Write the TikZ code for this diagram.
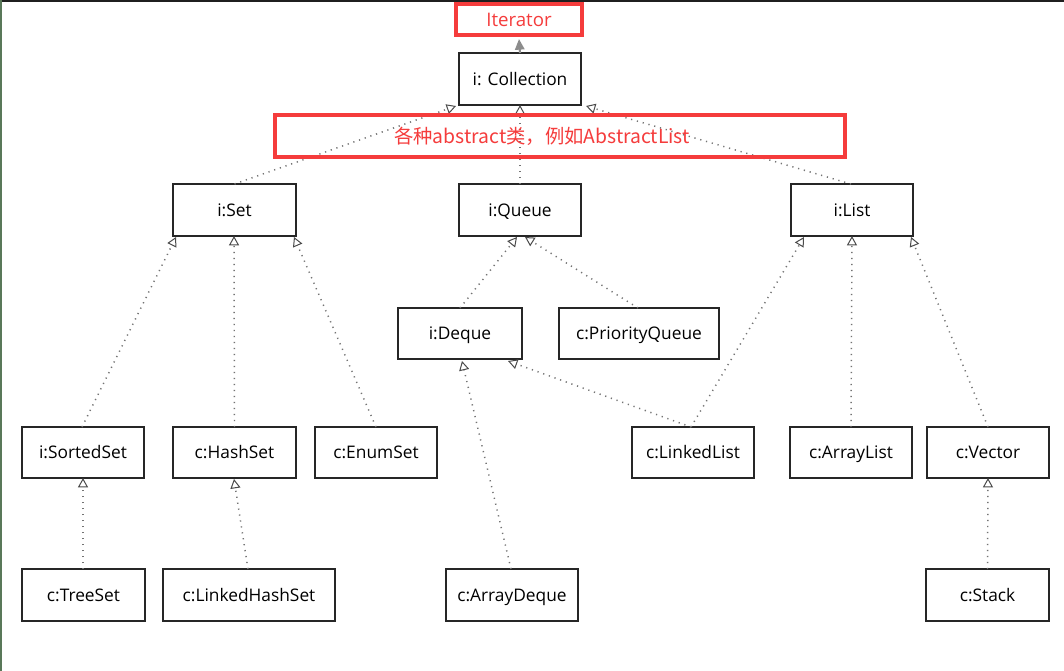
\documentclass[tikz,border=0pt]{standalone}
\usepackage{fontspec}
\setmainfont{Open Sans}
\newfontfamily\cjk{Noto Sans CJK SC}
\usetikzlibrary{arrows.meta,calc}
\definecolor{redbox}{RGB}{245,60,60}
\definecolor{dotgray}{RGB}{115,115,115}
\definecolor{headgray}{RGB}{75,75,75}
\tikzset{
  cbox/.style={draw=black!85, line width=0.9pt, inner sep=0pt, outer sep=0pt, font=\fontsize{13}{15}\selectfont, text=black, text height=10.5pt, text depth=1.5pt},
  rbox/.style={draw=redbox, line width=2.4pt, inner sep=0pt, outer sep=0pt, text=redbox},
  inh/.style={dotgray, line width=1.1pt, dash pattern=on 0.9pt off 3.6pt,
    -{Triangle[open, length=7pt, width=7.5pt, line width=0.75pt, color=headgray, fill=white]}},
  assoc/.style={draw=black!45, line width=1.6pt, -{Triangle[length=8pt, width=7pt, color=black!45]}}
}
\newcommand{\ubox}[7]{\node[#7, minimum width={(#4-#2)*0.75pt}, minimum height={(#5-#3)*0.75pt}] (#1) at ({(#2+#4)/2},{(#3+#5)/2}) {#6};}
\begin{document}
\begin{tikzpicture}[x=0.75pt, y=-0.75pt]
\useasboundingbox (0,0) rectangle (1064,671);
\fill[white] (0,0) rectangle (1064,671);
\fill[black!88] (0,0) rectangle (1064,2.2);
\fill[black!60!green!30!gray] (0,0) rectangle (1.6,671);

\ubox{iter}{456}{4}{582}{35}{\fontsize{14}{16}\selectfont Iterator}{rbox}
\ubox{coll}{459}{53}{581}{105}{i: Collection}{cbox}
\ubox{set}{173}{184}{296}{236}{i:Set}{cbox}
\ubox{queue}{459}{184}{581}{236}{i:Queue}{cbox}
\ubox{list}{791}{184}{913}{236}{i:List}{cbox}
\ubox{deque}{398}{308}{522}{359}{i:Deque}{cbox}
\ubox{pq}{559}{308}{719}{359}{c:PriorityQueue}{cbox}
\ubox{sorted}{22}{427}{144}{478}{i:SortedSet}{cbox}
\ubox{hashset}{173}{427}{296}{478}{c:HashSet}{cbox}
\ubox{enumset}{315}{427}{437}{478}{c:EnumSet}{cbox}
\ubox{linkedlist}{632}{427}{754}{478}{c:LinkedList}{cbox}
\ubox{arraylist}{790}{427}{912}{478}{c:ArrayList}{cbox}
\ubox{vector}{927}{427}{1049}{478}{c:Vector}{cbox}
\ubox{treeset}{22}{569}{145}{621}{c:TreeSet}{cbox}
\ubox{lhs}{163}{569}{335}{621}{c:LinkedHashSet}{cbox}
\ubox{arraydeque}{446}{569}{578}{621}{c:ArrayDeque}{cbox}
\ubox{stack}{926}{569}{1049}{621}{c:Stack}{cbox}

% connectors
\draw[assoc] (coll.north) -- ($(iter.south)+(0,4)$);
\draw[inh] (set.north) -- ($(coll.south west)+(-3,1)$);
\draw[inh] (queue.north) -- (coll.south);
\draw[inh] ($(list.north)+(-1,0)$) -- ($(coll.south east)+(5,1)$);
\draw[inh] ($(sorted.north)+(-1,0)$) -- ($(set.south west)+(3,1)$);
\draw[inh] (hashset.north) -- ($(set.south)+(-0.5,0)$);
\draw[inh] ($(enumset.north)+(0,0)$) -- ($(set.south east)+(-2,1)$);
\draw[inh] (deque.north) -- ($(queue.south)+(-3,1)$);
\draw[inh] ($(pq.north)+(-1,0)$) -- ($(queue.south)+(5,1)$);
\draw[inh] ($(linkedlist.north)+(-2,0)$) -- ($(deque.south east)+(-14,2)$);
\draw[inh] ($(linkedlist.north)+(-2,0)$) -- ($(list.south west)+(13,1)$);
\draw[inh] (arraylist.north) -- (list.south);
\draw[inh] (vector.north) -- ($(list.south east)+(-2,1)$);
\draw[inh] ($(treeset.north)+(-0.5,0)$) -- (sorted.south);
\draw[inh] ($(lhs.north)+(-1,0)$) -- ($(hashset.south)+(-0.5,1)$);
\draw[inh] ($(arraydeque.north)+(-1,0)$) -- ($(deque.south)+(2,2)$);
\draw[inh] (stack.north) -- (vector.south);

% red annotation box drawn on top
\ubox{abs}{275}{115}{845}{157}{}{rbox}
\node[text=redbox, font=\cjk\fontsize{14.5}{16}\selectfont, inner sep=0pt] (abstxt) at ($(abs.center)+(-18,0)$) {各种abstract类，例如AbstractList};
\end{tikzpicture}
\end{document}
